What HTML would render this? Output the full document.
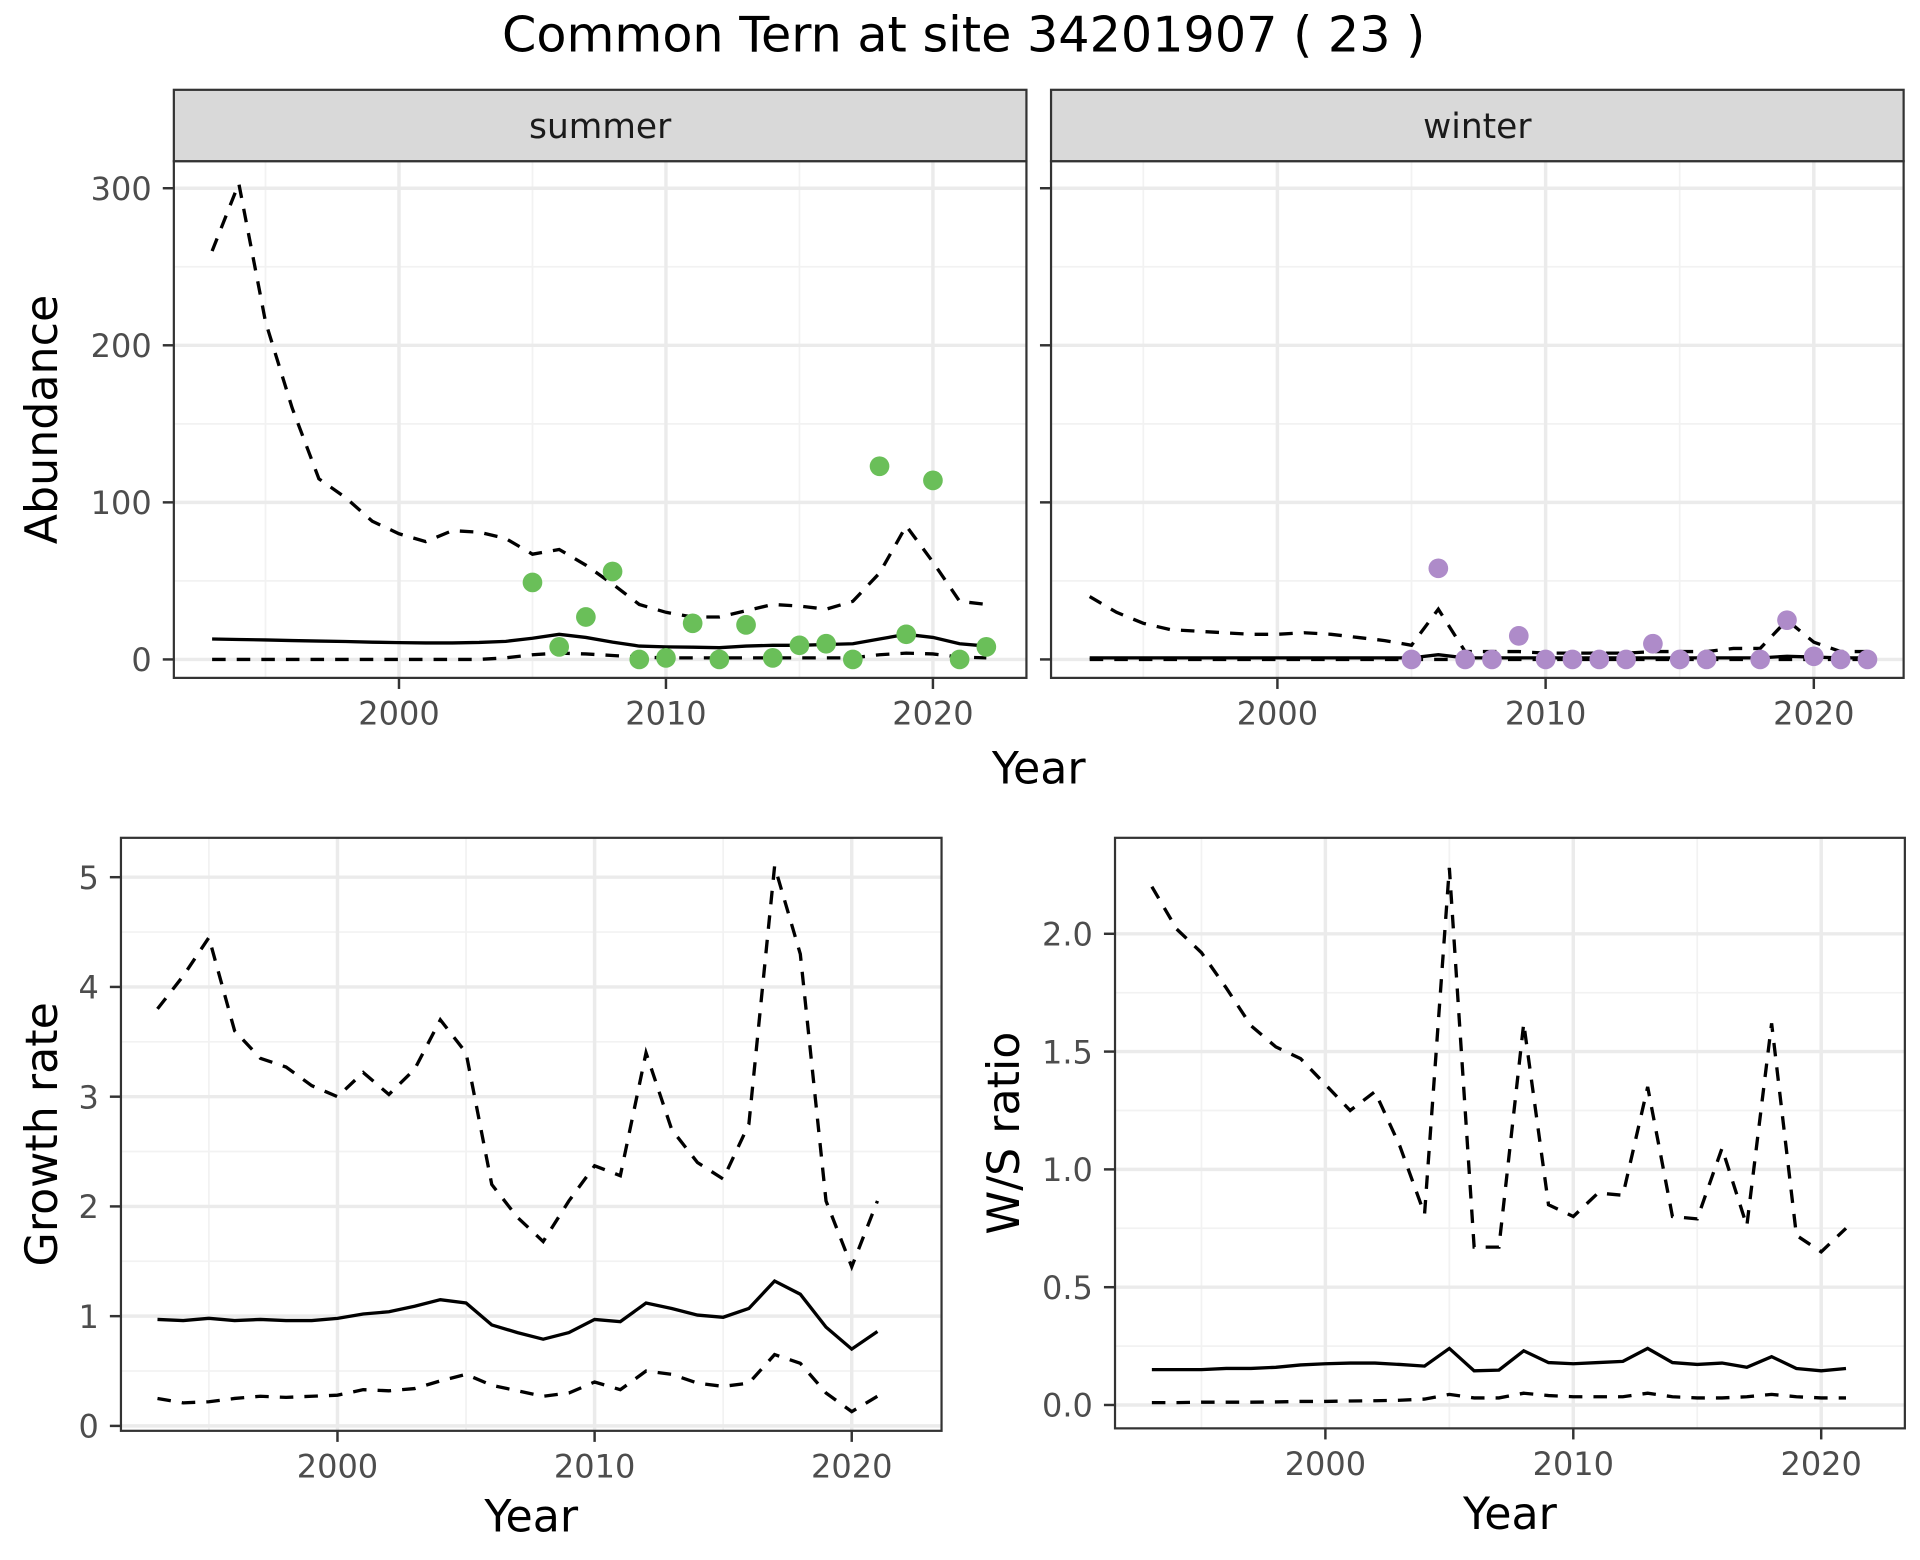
<!DOCTYPE html>
<html><head><meta charset="utf-8"><style>
html,body{margin:0;padding:0;background:#fff}
svg{display:block;font-family:"DejaVu Sans","Liberation Sans",sans-serif}
</style></head><body>
<svg id="c" width="1920" height="1560" viewBox="0 0 1560 1268">
<text x="783" y="42" text-anchor="middle" font-size="40" fill="#000">Common Tern at site 34201907 ( 23 )</text>
</svg>
<script>
const yearsA = [1993,1994,1995,1996,1997,1998,1999,2000,2001,2002,2003,2004,2005,2006,2007,2008,2009,2010,2011,2012,2013,2014,2015,2016,2017,2018,2019,2020,2021,2022];
const sumUpper = [260,303,215,160,115,103,88,80,75,82,81,77,67,70,60,48,35,30,27,27,31,35,34,32,37,55,85,62,37,35];
const sumMean = [13,12.7,12.4,12,11.7,11.4,11,10.7,10.5,10.5,10.8,11.5,13.5,16,14,11,8.5,8,7.8,7.5,8.5,9,9,9.5,10,13,16,14,10,8.5];
const sumLower = [0,0,0,0,0,0,0,0,0,0,0,1,3,4,3.5,2.5,1.5,1,1,1,1,1,1,1,1,3,4,3.5,1.5,1];
const sumPtYears = [2005,2006,2007,2008,2009,2010,2011,2012,2013,2014,2015,2016,2017,2018,2019,2020,2021,2022];
const sumPtVals = [49,8,27,56,0,1,23,0,22,1,9,10,0,123,16,114,0,8];
const winUpper = [40,30,23,19,18,17,16,16,17,16,14,12,9,32,5,5,5,4,4,4,4,5,5,5,7,7,25,11,5,5];
const winMean = [1,1,1,1,1,1,1,1,1,1,1,1,1,3,1,1,1,1,1,1,1,1,1,1,1,1,2,1.5,1,1];
const winLower = [0,0,0,0,0,0,0,0,0,0,0,0,0,0,0,0,0,0,0,0,0,0,0,0,0,0,0,0,0,0];
const winPtYears = [2005,2006,2007,2008,2009,2010,2011,2012,2013,2014,2015,2016,2018,2019,2020,2021,2022];
const winPtVals = [0,58,0,0,15,0,0,0,0,10,0,0,0,25,2,0,0];
const yearsB = [1993,1994,1995,1996,1997,1998,1999,2000,2001,2002,2003,2004,2005,2006,2007,2008,2009,2010,2011,2012,2013,2014,2015,2016,2017,2018,2019,2020,2021];
const grUpper = [3.8,4.1,4.45,3.6,3.35,3.27,3.1,3.0,3.22,3.02,3.25,3.7,3.4,2.2,1.9,1.68,2.05,2.37,2.28,3.4,2.7,2.4,2.25,2.75,5.1,4.3,2.05,1.45,2.05];
const grMean = [0.97,0.96,0.98,0.96,0.97,0.96,0.96,0.98,1.02,1.04,1.09,1.15,1.12,0.92,0.85,0.79,0.85,0.97,0.95,1.12,1.07,1.01,0.99,1.07,1.32,1.2,0.9,0.7,0.86];
const grLower = [0.25,0.21,0.22,0.25,0.27,0.26,0.27,0.28,0.33,0.32,0.34,0.41,0.47,0.37,0.32,0.27,0.3,0.4,0.33,0.5,0.47,0.39,0.36,0.39,0.65,0.57,0.3,0.13,0.27];
const wsUpper = [2.2,2.02,1.92,1.77,1.61,1.52,1.47,1.36,1.25,1.33,1.1,0.81,2.28,0.67,0.67,1.62,0.85,0.8,0.9,0.89,1.35,0.8,0.79,1.09,0.76,1.62,0.72,0.65,0.75];
const wsMean = [0.15,0.15,0.15,0.155,0.155,0.16,0.17,0.175,0.178,0.178,0.172,0.165,0.24,0.145,0.148,0.23,0.18,0.175,0.18,0.185,0.24,0.18,0.172,0.178,0.16,0.205,0.155,0.145,0.155];
const wsLower = [0.01,0.01,0.012,0.012,0.012,0.013,0.015,0.015,0.017,0.018,0.02,0.025,0.045,0.03,0.03,0.05,0.04,0.035,0.035,0.035,0.05,0.035,0.03,0.03,0.035,0.045,0.035,0.03,0.03];
const xTicks = [2000,2010,2020];
const xMinor = [1995,2005,2015];
const abTicks = [0,100,200,300];
const abMinor = [50,150,250];
const grTicks = [0,1,2,3,4,5];
const grMinor = [0.5,1.5,2.5,3.5,4.5];
const wsTicks = [0,0.5,1.0,1.5,2.0];
const wsTickLabels = ["0.0","0.5","1.0","1.5","2.0"];
const wsMinor = [0.25,0.75,1.25,1.75];

const svg = document.getElementById('c');
const NS = 'http://www.w3.org/2000/svg';
function mk(tag, attrs, parent){const e=document.createElementNS(NS,tag);for(const k in attrs)e.setAttribute(k,attrs[k]);(parent||svg).appendChild(e);return e;}
function lin(d0,d1,r0,r1){return v=>r0+(v-d0)*(r1-r0)/(d1-d0);}

function panel(o){
  const g = mk('g',{});
  
  
  const X=o.x, Y=o.y;
  mk('rect',{x:o.l,y:o.t,width:o.r-o.l,height:o.b-o.t,fill:'#fff'},g);
  o.xMinor.forEach(v=>mk('line',{x1:X(v),x2:X(v),y1:o.t,y2:o.b,stroke:'#f2f2f2','stroke-width':1.4},g));
  o.yMinor.forEach(v=>mk('line',{x1:o.l,x2:o.r,y1:Y(v),y2:Y(v),stroke:'#f2f2f2','stroke-width':1.4},g));
  o.xTicks.forEach(v=>mk('line',{x1:X(v),x2:X(v),y1:o.t,y2:o.b,stroke:'#ebebeb','stroke-width':2.8},g));
  o.yTicks.forEach(v=>mk('line',{x1:o.l,x2:o.r,y1:Y(v),y2:Y(v),stroke:'#ebebeb','stroke-width':2.8},g));
  o.series.forEach(s=>{
    const p = mk('polyline',{points:s.xs.map((yr,i)=>X(yr)+','+Y(s.v[i])).join(' '),fill:'none',stroke:'#000','stroke-width':2.7,'stroke-dasharray':s.dash?'11,9':'none'},g);
    
    
  });
  if(o.pts){o.pts.ys.forEach((yr,i)=>{
    const c = mk('circle',{cx:X(yr),cy:Y(o.pts.v[i]),r:8,fill:o.pts.col},g);
    
    
  });}
  mk('rect',{x:o.l,y:o.t,width:o.r-o.l,height:o.b-o.t,fill:'none',stroke:'#333','stroke-width':1.8},g);
  o.xTicks.forEach(v=>{
    mk('line',{x1:X(v),x2:X(v),y1:o.b,y2:o.b+9,stroke:'#333','stroke-width':2},g);
    const t=mk('text',{x:X(v),y:o.b+38,'text-anchor':'middle','font-size':26,fill:'#4d4d4d'},g);t.textContent=v;
    
    
  });
  if(o.yLabels){o.yTicks.forEach((v,i)=>{
    mk('line',{x1:o.l-9,x2:o.l,y1:Y(v),y2:Y(v),stroke:'#333','stroke-width':2},g);
    const t=mk('text',{x:o.l-18,y:Y(v)+9.5,'text-anchor':'end','font-size':26,fill:'#4d4d4d'},g);t.textContent=o.yLabels[i];
    
    
  });} else {o.yTicks.forEach(v=>mk('line',{x1:o.l-9,x2:o.l,y1:Y(v),y2:Y(v),stroke:'#333','stroke-width':2},g));}
  if(o.strip){
    mk('rect',{x:o.l,y:73,width:o.r-o.l,height:58,fill:'#d9d9d9',stroke:'#333','stroke-width':1.8},g);
    const t=mk('text',{x:(o.l+o.r)/2,y:112,'text-anchor':'middle','font-size':28,fill:'#1a1a1a'},g);t.textContent=o.strip;
    
    
  }
  if(o.xTitle){const t=mk('text',{x:(o.l+o.r)/2,y:o.b+82,'text-anchor':'middle','font-size':36,fill:'#000'},g);t.textContent=o.xTitle;
    
    }
  if(o.yTitle){const t=mk('text',{x:0,y:0,'text-anchor':'middle','font-size':36,fill:'#000',transform:`translate(${o.yTitleX},${(o.t+o.b)/2}) rotate(-90)`},g);t.textContent=o.yTitle;
    
    }
}

const yAb = lin(0,300,536,153);
panel({name:'summer-panel',l:141,r:834,t:131,b:551,x:lin(2000,2020,324,758),y:yAb,xTicks,xMinor,yTicks:abTicks,yMinor:abMinor,yLabels:abTicks,strip:'summer',
  yTitle:'Abundance',yTitleX:46,
  series:[{xs:yearsA,v:sumUpper,dash:1,name:'summer-upper-ci'},{xs:yearsA,v:sumMean,name:'summer-mean'},{xs:yearsA,v:sumLower,dash:1,name:'summer-lower-ci'}],
  pts:{ys:sumPtYears,v:sumPtVals,col:'#6abf59'}});
panel({name:'winter-panel',l:854,r:1547,t:131,b:551,x:lin(2000,2020,1038,1474),y:yAb,xTicks,xMinor,yTicks:abTicks,yMinor:abMinor,strip:'winter',
  series:[{xs:yearsA,v:winUpper,dash:1,name:'winter-upper-ci'},{xs:yearsA,v:winMean,name:'winter-mean'},{xs:yearsA,v:winLower,dash:1,name:'winter-lower-ci'}],
  pts:{ys:winPtYears,v:winPtVals,col:'#ae8bc9'}});
const xt=mk('text',{x:844,y:637,'text-anchor':'middle','font-size':36,fill:'#000'});xt.textContent='Year';


panel({name:'growth-rate-panel',l:98,r:765,t:681,b:1163,x:lin(2000,2020,274,692),y:lin(0,5,1159,713),xTicks,xMinor,yTicks:grTicks,yMinor:grMinor,yLabels:grTicks,
  xTitle:'Year',yTitle:'Growth rate',yTitleX:46,
  series:[{xs:yearsB,v:grUpper,dash:1,name:'growth-upper-ci'},{xs:yearsB,v:grMean,name:'growth-mean'},{xs:yearsB,v:grLower,dash:1,name:'growth-lower-ci'}]});
panel({name:'ws-ratio-panel',l:906,r:1548,t:681,b:1161,x:lin(2000,2020,1077,1480),y:lin(0,2,1142,759),xTicks,xMinor,yTicks:wsTicks,yMinor:wsMinor,yLabels:wsTickLabels,
  xTitle:'Year',yTitle:'W/S ratio',yTitleX:828,
  series:[{xs:yearsB,v:wsUpper,dash:1,name:'ws-upper-ci'},{xs:yearsB,v:wsMean,name:'ws-mean'},{xs:yearsB,v:wsLower,dash:1,name:'ws-lower-ci'}]});
</script>
</body></html>
